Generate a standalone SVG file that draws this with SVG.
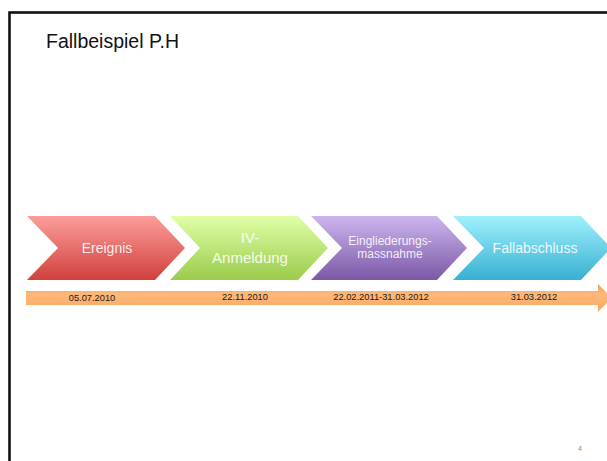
<svg xmlns="http://www.w3.org/2000/svg" width="607" height="461" viewBox="0 0 607 461">
<style>
.chev-text{font-family:"Liberation Sans",Arial,sans-serif;fill:#ffffff;fill-opacity:0.88;text-anchor:middle}
.date{font-family:"Liberation Sans",Arial,sans-serif;font-size:9.3px;fill:#1a1a1a;text-anchor:middle}
</style>
<defs>
<linearGradient id="gRed" x1="0" y1="0" x2="0" y2="1"><stop offset="0" stop-color="#FC9E9C"/><stop offset="1" stop-color="#D0403C"/></linearGradient>
<linearGradient id="gGreen" x1="0" y1="0" x2="0" y2="1"><stop offset="0" stop-color="#E0FFA6"/><stop offset="1" stop-color="#9BCB4C"/></linearGradient>
<linearGradient id="gPurple" x1="0" y1="0" x2="0" y2="1"><stop offset="0" stop-color="#CDB6EE"/><stop offset="1" stop-color="#7B58A6"/></linearGradient>
<linearGradient id="gCyan" x1="0" y1="0" x2="0" y2="1"><stop offset="0" stop-color="#A0F0FC"/><stop offset="1" stop-color="#38B0D2"/></linearGradient>
<linearGradient id="gOrange" x1="0" y1="0" x2="0" y2="1"><stop offset="0" stop-color="#F79A52"/><stop offset="0.35" stop-color="#FDB878"/><stop offset="1" stop-color="#FBA865"/></linearGradient>
</defs>
<rect x="0" y="0" width="607" height="461" fill="#ffffff"/>
<rect id="frame" x="9.5" y="12.5" width="700" height="500" fill="none" stroke="#111111" stroke-width="2.6"/>
<text id="title" x="46" y="48" font-family="Liberation Sans,Arial,sans-serif" font-size="19.5" fill="#111111">Fallbeispiel P.H</text>
<g id="connectors">
<path id="timeline" d="M26,291 L598,291 L598,284 L612,298 L598,312 L598,305 L26,305 Z" fill="url(#gOrange)"/>
</g>
<g id="node-ereignis">
<path d="M27,216 L155,216 L185,248 L155,280 L27,280 L58,248 Z" fill="url(#gRed)"/>
<text class="chev-text" x="107" y="253" font-size="14">Ereignis</text>
</g>
<g id="node-iv">
<path d="M170,216 L298,216 L328,248 L298,280 L170,280 L200,248 Z" fill="url(#gGreen)"/>
<text class="chev-text" x="250" y="243" font-size="15">IV-</text>
<text class="chev-text" x="250" y="263" font-size="15">Anmeldung</text>
</g>
<g id="node-eingliederung">
<path d="M311,216 L437,216 L467,248 L437,280 L311,280 L342,248 Z" fill="url(#gPurple)"/>
<text class="chev-text" x="390" y="245" font-size="12">Eingliederungs-</text>
<text class="chev-text" x="390" y="258" font-size="12">massnahme</text>
</g>
<g id="node-fallabschluss">
<path d="M453,216 L581,216 L611,248 L581,280 L453,280 L484,248 Z" fill="url(#gCyan)"/>
<text class="chev-text" x="535" y="253" font-size="14">Fallabschluss</text>
</g>
<g id="dates">
<text class="date" x="92" y="301">05.07.2010</text>
<text class="date" x="245" y="300">22.11.2010</text>
<text class="date" x="381" y="300">22.02.2011-31.03.2012</text>
<text class="date" x="534" y="300">31.03.2012</text>
</g>
<text id="page" x="580" y="451" font-family="Liberation Sans,Arial,sans-serif" font-size="7" fill="#8c8c8c" text-anchor="middle">4</text>
</svg>
